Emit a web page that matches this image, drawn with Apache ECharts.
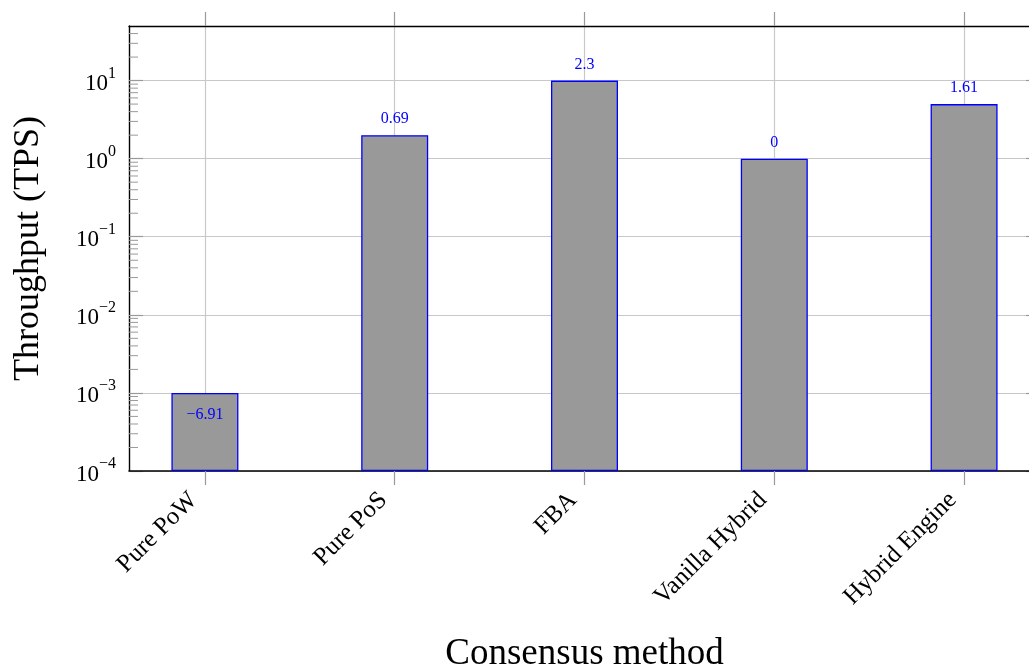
<!DOCTYPE html>
<html>
<head>
<meta charset="utf-8">
<title>Throughput by consensus method</title>
<script src="https://cdn.jsdelivr.net/npm/echarts@6/dist/echarts.min.js"></script>
<style>
  html, body { margin: 0; padding: 0; background: #ffffff; }
  #chart { width: 1029px; height: 666px; }
</style>
</head>
<body>
<div id="chart"></div>
<script>
// Consensus methods and their measured throughput (transactions per second)
const categories = ['Pure PoW', 'Pure PoS', 'FBA', 'Vanilla Hybrid', 'Hybrid Engine'];
const throughput = [0.001, 2, 10, 1, 5];

// Log axis range and decade tick values
const yMin = 1e-4;
const yMax = 50;
const decadeTicks = [1e-4, 1e-3, 1e-2, 1e-1, 1, 10];

// Category positions on the x axis, with padding either side of the first and last bar
const xMin = -0.4;
const xMax = 4.4;
const xPositions = categories.map((_, i) => i);

const FONT = '"Liberation Serif", "DejaVu Serif", serif';
const GRID_GRAY = '#c8c8c8';
const TICK_GRAY = '#9a9a9a';

// Minor ticks at 2..9 times each decade
const minorTicks = [];
decadeTicks.forEach(d => {
  for (let k = 2; k <= 9; k++) {
    const v = k * d;
    if (v < yMax) minorTicks.push(v);
  }
});

// Node labels show the natural log of each value
function lnLabel(v) {
  const s = String(parseFloat(Math.log(v).toFixed(2)));
  return s.replace('-', '\u2212');
}

function decadeLabel(v) {
  const e = Math.log10(v);
  const r = Math.round(e);
  if (Math.abs(e - r) > 1e-6) return '';
  const exp = r < 0 ? '\u2212' + (-r) : String(r);
  return '{base|10}{sup|' + exp + '}';
}

const barData = throughput.map((v, i) => {
  const item = { value: [xPositions[i], v] };
  if (Math.log(v) < 0) {
    item.label = { position: 'insideTop', distance: 14 };
  }
  return item;
});

const chart = echarts.init(document.getElementById('chart'), null, { renderer: 'canvas' });

chart.setOption({
  backgroundColor: '#ffffff',
  animation: false,
  grid: {
    left: 129,
    top: 26,
    width: 911,
    height: 445,
    containLabel: false,
    outerBoundsMode: 'none'
  },
  xAxis: [
    {
      type: 'value',
      position: 'bottom',
      z: 2,
      min: xMin,
      max: xMax,
      name: 'Consensus method',
      nameLocation: 'middle',
      nameGap: 165,
      nameMoveOverlap: false,
      nameTextStyle: { fontFamily: FONT, fontSize: 37, color: '#000' },
      axisLine: { show: true, onZero: false, lineStyle: { color: '#000', width: 1.6 } },
      axisTick: { show: true, inside: false, length: 14, customValues: xPositions,
                  lineStyle: { color: TICK_GRAY, width: 1.2 } },
      axisLabel: {
        show: true,
        customValues: xPositions,
        rotate: 45,
        margin: 14,
        padding: [0, 16, 0, 0],
        fontFamily: FONT,
        fontSize: 25,
        color: '#000',
        formatter: v => categories[Math.round(v)] || ''
      },
      splitLine: { show: true, lineStyle: { color: GRID_GRAY, width: 1.2 } }
    },
    {
      type: 'value',
      position: 'top',
      z: 2,
      min: xMin,
      max: xMax,
      axisLine: { show: true, onZero: false, lineStyle: { color: '#000', width: 1.4 } },
      axisTick: { show: true, inside: false, length: 14, customValues: xPositions,
                  lineStyle: { color: TICK_GRAY, width: 1.2 } },
      axisLabel: { show: false },
      splitLine: { show: false }
    }
  ],
  yAxis: [
    {
      type: 'log',
      logBase: 10,
      min: yMin,
      max: yMax,
      interval: 1,
      startValue: yMin,
      position: 'left',
      name: 'Throughput (TPS)',
      nameLocation: 'middle',
      nameGap: 82,
      nameMoveOverlap: false,
      nameTextStyle: { fontFamily: FONT, fontSize: 36, color: '#000' },
      axisLine: { show: true, onZero: false, lineStyle: { color: '#000', width: 1.4 } },
      axisTick: { show: true, inside: true, length: 14, customValues: decadeTicks,
                  lineStyle: { color: TICK_GRAY, width: 1.2 } },
      axisLabel: {
        show: true,
        customValues: decadeTicks,
        margin: 13,
        color: '#000',
        fontFamily: FONT,
        formatter: decadeLabel,
        rich: {
          base: { fontFamily: FONT, fontSize: 23, color: '#000', lineHeight: 30, verticalAlign: 'bottom' },
          sup: { fontFamily: FONT, fontSize: 16, color: '#000', lineHeight: 30, verticalAlign: 'top' }
        }
      },
      splitLine: { show: true, lineStyle: { color: GRID_GRAY, width: 1.2 } }
    },
    {
      type: 'log',
      logBase: 10,
      min: yMin,
      max: yMax,
      interval: 1,
      position: 'right',
      axisLine: { show: false, onZero: false },
      axisTick: { show: true, inside: true, length: 14, customValues: decadeTicks,
                  lineStyle: { color: TICK_GRAY, width: 1.2 } },
      axisLabel: { show: false },
      splitLine: { show: false }
    }
  ],
  series: [
    {
      type: 'bar',
      xAxisIndex: 0,
      yAxisIndex: 0,
      barWidth: 67,
      data: barData,
      itemStyle: { color: '#999999', borderColor: '#0000ff', borderWidth: 1.3 },
      label: {
        show: true,
        position: 'top',
        distance: 8,
        color: '#0000ff',
        fontFamily: FONT,
        fontSize: 16,
        formatter: p => lnLabel(p.value[1])
      },
      z: 3
    },
    {
      // minor ticks along the left axis
      type: 'custom',
      xAxisIndex: 0,
      yAxisIndex: 0,
      silent: true,
      clip: false,
      data: minorTicks.map(v => [xMin, v]),
      encode: { x: 0, y: 1 },
      renderItem: (params, api) => {
        const p = api.coord([api.value(0), api.value(1)]);
        return {
          type: 'line',
          shape: { x1: p[0], y1: p[1], x2: p[0] + 9, y2: p[1] },
          style: { stroke: TICK_GRAY, lineWidth: 1 }
        };
      },
      z: 4
    }
  ]
});
</script>
</body>
</html>
